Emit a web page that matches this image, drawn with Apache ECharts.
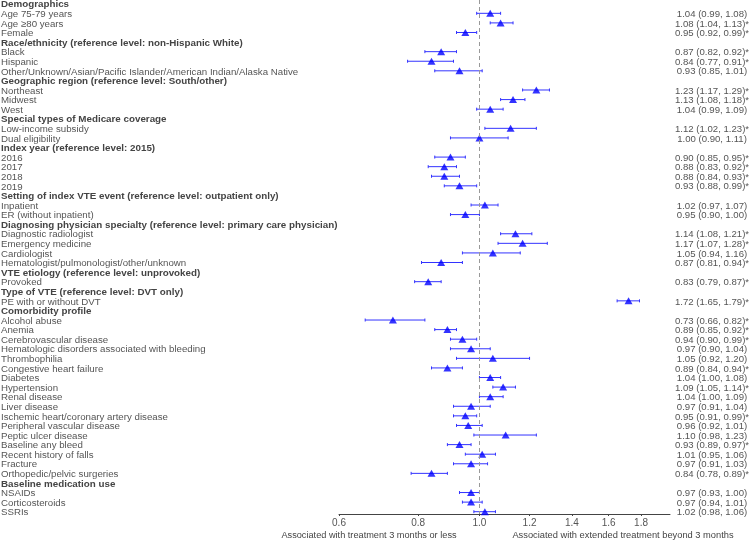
<!DOCTYPE html>
<html>
<head>
<meta charset="utf-8">
<script src="https://cdn.jsdelivr.net/npm/echarts@6.0.0/dist/echarts.min.js"></script>
<style>
  html, body { margin: 0; padding: 0; background: #fff; }
  #main { width: 750px; height: 541px; }
</style>
</head>
<body>
<div id="main"></div>
<script>
// row labels, top to bottom
const rowLabels = [
  'Demographics', 'Age 75-79 years', 'Age ≥80 years', 'Female',
  'Race/ethnicity (reference level: non-Hispanic White)', 'Black', 'Hispanic',
  'Other/Unknown/Asian/Pacific Islander/American Indian/Alaska Native',
  'Geographic region (reference level: South/other)', 'Northeast', 'Midwest', 'West',
  'Special types of Medicare coverage', 'Low-income subsidy', 'Dual eligibility',
  'Index year (reference level: 2015)', '2016', '2017', '2018', '2019',
  'Setting of index VTE event (reference level: outpatient only)', 'Inpatient', 'ER (without inpatient)',
  'Diagnosing physician specialty (reference level: primary care physician)', 'Diagnostic radiologist',
  'Emergency medicine', 'Cardiologist', 'Hematologist/pulmonologist/other/unknown',
  'VTE etiology (reference level: unprovoked)', 'Provoked',
  'Type of VTE (reference level: DVT only)', 'PE with or without DVT',
  'Comorbidity profile', 'Alcohol abuse', 'Anemia', 'Cerebrovascular disease',
  'Hematologic disorders associated with bleeding', 'Thrombophilia', 'Congestive heart failure',
  'Diabetes', 'Hypertension', 'Renal disease', 'Liver disease', 'Ischemic heart/coronary artery disease',
  'Peripheral vascular disease', 'Peptic ulcer disease', 'Baseline any bleed', 'Recent history of falls',
  'Fracture', 'Orthopedic/pelvic surgeries',
  'Baseline medication use', 'NSAIDs', 'Corticosteroids', 'SSRIs'
];
const isHeader = [
  1, 0, 0, 0,
  1, 0, 0, 0,
  1, 0, 0, 0,
  1, 0, 0,
  1, 0, 0, 0, 0,
  1, 0, 0,
  1, 0, 0, 0, 0,
  1, 0,
  1, 0,
  1, 0, 0, 0, 0, 0, 0, 0, 0, 0, 0, 0, 0, 0, 0, 0, 0, 0,
  1, 0, 0, 0
];
// odds ratios and 95% CI (null on header rows)
const estimate = [
  null, 1.04, 1.08, 0.95,
  null, 0.87, 0.84, 0.93,
  null, 1.23, 1.13, 1.04,
  null, 1.12, 1.00,
  null, 0.90, 0.88, 0.88, 0.93,
  null, 1.02, 0.95,
  null, 1.14, 1.17, 1.05, 0.87,
  null, 0.83,
  null, 1.72,
  null, 0.73, 0.89, 0.94, 0.97, 1.05, 0.89, 1.04, 1.09, 1.04, 0.97, 0.95, 0.96, 1.10, 0.93, 1.01, 0.97, 0.84,
  null, 0.97, 0.97, 1.02
];
const lower = [
  null, 0.99, 1.04, 0.92,
  null, 0.82, 0.77, 0.85,
  null, 1.17, 1.08, 0.99,
  null, 1.02, 0.90,
  null, 0.85, 0.83, 0.84, 0.88,
  null, 0.97, 0.90,
  null, 1.08, 1.07, 0.94, 0.81,
  null, 0.79,
  null, 1.65,
  null, 0.66, 0.85, 0.90, 0.90, 0.92, 0.84, 1.00, 1.05, 1.00, 0.91, 0.91, 0.92, 0.98, 0.89, 0.95, 0.91, 0.78,
  null, 0.93, 0.94, 0.98
];
const upper = [
  null, 1.08, 1.13, 0.99,
  null, 0.92, 0.91, 1.01,
  null, 1.29, 1.18, 1.09,
  null, 1.23, 1.11,
  null, 0.95, 0.92, 0.93, 0.99,
  null, 1.07, 1.00,
  null, 1.21, 1.28, 1.16, 0.94,
  null, 0.87,
  null, 1.79,
  null, 0.82, 0.92, 0.99, 1.04, 1.20, 0.94, 1.08, 1.14, 1.09, 1.04, 0.99, 1.01, 1.23, 0.97, 1.06, 1.03, 0.89,
  null, 1.00, 1.01, 1.06
];
const xTicks = [0.6, 0.8, 1.0, 1.2, 1.4, 1.6, 1.8];
const xRange = [0.6, 2.0];

const FONT = 'Liberation Sans, Arial, sans-serif';
const LX0 = Math.log(xRange[0]);
const LX1 = Math.log(xRange[1]);
const dataRows = [];
for (let i = 0; i < rowLabels.length; i++) if (estimate[i] != null) dataRows.push(i);

const ciText = (i) => {
  const star = (lower[i] > 1 || upper[i] < 1) ? '*' : '';
  return `${estimate[i].toFixed(2)} (${lower[i].toFixed(2)}, ${upper[i].toFixed(2)})${star}`;
};

const chart = echarts.init(document.getElementById('main'), null, { renderer: 'canvas' });
chart.setOption({
  animation: false,
  textStyle: { fontFamily: FONT },
  grid: { left: 339, right: 80, top: 0, bottom: 27, containLabel: false, outerBoundsMode: 'none' },
  xAxis: {
    type: 'value',
    position: 'bottom',
    min: LX0,
    max: LX1,
    axisLine: { onZero: false, lineStyle: { color: '#444', width: 1 } },
    axisTick: { customValues: xTicks.map(Math.log), length: 2, lineStyle: { color: '#444' } },
    axisLabel: {
      customValues: xTicks.map(Math.log),
      formatter: (v) => Math.exp(v).toFixed(1),
      color: '#555',
      fontSize: 10,
      margin: 4,
      fontFamily: FONT
    },
    splitLine: { show: false }
  },
  yAxis: {
    type: 'value',
    inverse: true,
    min: -0.39,
    max: 53.24,
    axisLine: { show: false },
    axisTick: { show: false },
    axisLabel: { show: false },
    splitLine: { show: false }
  },
  series: [
    {
      // row labels on the left
      type: 'custom',
      silent: true,
      clip: false,
      renderItem: (params, api) => {
        const i = api.value(1);
        const p = api.coord([api.value(0), i]);
        return {
          type: 'text',
          x: p[0] - 338,
          y: p[1] + 1,
          style: {
            text: rowLabels[i],
            fill: isHeader[i] ? '#444' : '#555',
            fontWeight: isHeader[i] ? 'bold' : 'normal',
            fontSize: isHeader[i] ? 9.8 : 9.7,
            fontFamily: FONT,
            align: 'left',
            verticalAlign: 'middle'
          }
        };
      },
      encode: { x: 0, y: 1 },
      data: rowLabels.map((_, i) => [LX0, i])
    },
    {
      // estimate text on the right
      type: 'custom',
      silent: true,
      clip: false,
      renderItem: (params, api) => {
        const i = api.value(1);
        const p = api.coord([api.value(0), i]);
        return {
          type: 'text',
          x: p[0] + 42,
          y: p[1] + 1,
          style: {
            text: ciText(i),
            fill: '#555',
            fontSize: 9.6,
            fontFamily: FONT,
            align: 'center',
            verticalAlign: 'middle'
          }
        };
      },
      encode: { x: 0, y: 1 },
      data: dataRows.map((i) => [LX1, i])
    },
    {
      type: 'custom',
      silent: true,
      renderItem: (params, api) => {
        const y = api.value(2);
        const a = api.coord([api.value(0), y]);
        const b = api.coord([api.value(1), y]);
        const st = { stroke: '#3333ff', lineWidth: 1 };
        return {
          type: 'group',
          children: [
            { type: 'line', shape: { x1: a[0], y1: a[1], x2: b[0], y2: b[1] }, style: st },
            { type: 'line', shape: { x1: a[0], y1: a[1] - 1.5, x2: a[0], y2: a[1] + 1.5 }, style: st },
            { type: 'line', shape: { x1: b[0], y1: b[1] - 1.5, x2: b[0], y2: b[1] + 1.5 }, style: st }
          ]
        };
      },
      encode: { x: [0, 1], y: 2 },
      data: dataRows.map((i) => [Math.log(lower[i]), Math.log(upper[i]), i])
    },
    {
      type: 'scatter',
      silent: true,
      symbol: 'triangle',
      symbolSize: [8, 7],
      itemStyle: { color: '#0000ff' },
      z: 3,
      data: dataRows.map((i) => [Math.log(estimate[i]), i]),
      markLine: {
        silent: true,
        symbol: 'none',
        label: { show: false },
        lineStyle: { color: '#999', type: [4, 3], width: 1 },
        data: [{ xAxis: Math.log(1) }]
      }
    }
  ],
  graphic: [
    {
      type: 'text', x: 369, y: 535,
      style: { text: 'Associated with treatment 3 months or less', fill: '#444', font: '9.2px ' + FONT, align: 'center', verticalAlign: 'middle' }
    },
    {
      type: 'text', x: 623, y: 535,
      style: { text: 'Associated with extended treatment beyond 3 months', fill: '#444', font: '9.3px ' + FONT, align: 'center', verticalAlign: 'middle' }
    }
  ]
});
</script>
</body>
</html>
